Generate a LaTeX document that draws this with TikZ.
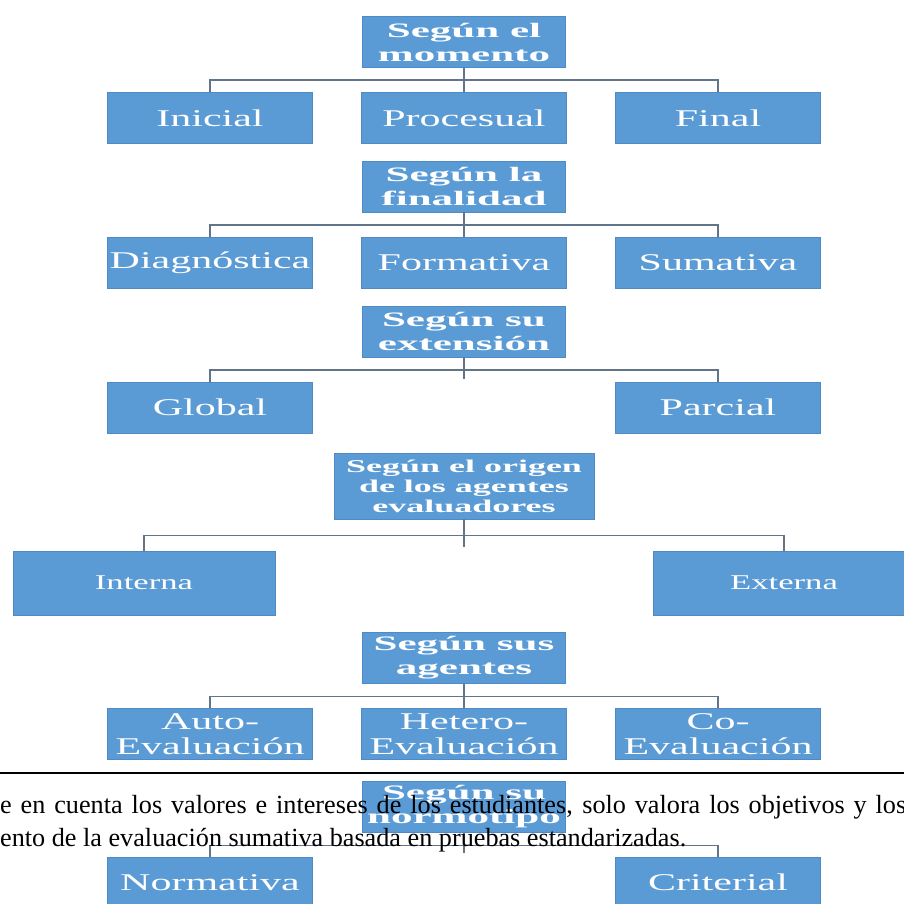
\documentclass[tikz,border=0pt]{standalone}
\usepackage{fontspec}
\setmainfont{Liberation Serif}
\usetikzlibrary{trees}

\definecolor{boxblue}{RGB}{91,155,213}
\definecolor{boxedge}{RGB}{79,138,196}
\definecolor{busgray}{RGB}{98,116,136}

\begin{document}
\begin{tikzpicture}[
    x=1pt, y=1pt,
    level 1/.style = {sibling distance=254pt, level distance=76pt},
    edge from parent/.style = {draw=busgray, line width=1.6pt},
    bus/.style = {edge from parent path={(\tikzparentnode.south) -- ++(0,-#1) -| (\tikzchildnode.north)}},
    rootbox/.style = {fill=boxblue, draw=boxedge, line width=0.6pt, text=white, align=center, inner sep=0pt,
        font=\bfseries\fontsize{20.5}{24}\selectfont, xscale=2.1, minimum width=203pt/2.1, minimum height=51pt},
    leafbox/.style = {fill=boxblue, draw=boxedge, line width=0.6pt, text=white, align=center, inner sep=0pt,
        font=\fontsize{24}{25}\selectfont, xscale=1.75, minimum width=205pt/1.75, minimum height=51pt},
    widebox/.style = {fill=boxblue, draw=boxedge, line width=0.6pt, text=white, align=center, inner sep=0pt,
        font=\fontsize{21}{22}\selectfont, xscale=1.65, minimum width=262pt/1.65, minimum height=64pt},
    stub/.style = {draw=busgray, line width=1.6pt}
]
\useasboundingbox (0,0) rectangle (904,903);
\clip (0,0) rectangle (904,903);

% segun el momento
\node[rootbox] (mom) at (464,861) {Según el\\momento} [bus=12.5]
    child {node[leafbox] (ini) {Inicial}}
    child {node[leafbox] (pro) {Procesual}}
    child {node[leafbox] (fin) {Final}};

% segun la finalidad
\node[rootbox] (fnl) at (464,716.5) {Según la\\finalidad} [bus=12.5]
    child {node[leafbox] (dia) {Diagnóstica}}
    child {node[leafbox] (frm) {Formativa}}
    child {node[leafbox] (sum) {Sumativa}};

% segun su extension
\begin{scope}[level 1/.style = {sibling distance=508pt, level distance=76pt}]
\node[rootbox] (ext) at (464,571.5) {Según su\\extensión} [bus=12.5]
    child {node[leafbox] (glo) {Global}}
    child {node[leafbox] (par) {Parcial}};
\end{scope}
\draw[stub] (ext.south) -- ([yshift=3pt]ext.south |- glo.north);

% segun el origen
\begin{scope}[level 1/.style = {sibling distance=640pt, level distance=97pt}]
\node[rootbox, font=\bfseries\fontsize{18}{20}\selectfont, xscale=2/2.1, minimum width=260pt/2, minimum height=66pt]
    (ori) at (464,417) {Según el origen\\de los agentes\\evaluadores} [bus=16]
    child {node[widebox] (int) {Interna}}
    child {node[widebox] (xtr) {Externa}};
\end{scope}
\draw[stub] (ori.south) -- ([yshift=4pt]ori.south |- int.north);

% segun sus agentes
\node[rootbox] (age) at (464,245) {Según sus\\agentes} [bus=12.5]
    child {node[leafbox] (aut) {Auto-\\Evaluación}}
    child {node[leafbox] (het) {Hetero-\\Evaluación}}
    child {node[leafbox] (coe) {Co-\\Evaluación}};

% segun su normotipo
\begin{scope}[level 1/.style = {sibling distance=508pt, level distance=75.5pt}]
\node[rootbox] (nor) at (464,96) {Según su\\normotipo} [bus=12.5]
    child {node[leafbox] (nrm) {Normativa}}
    child {node[leafbox] (cri) {Criterial}};
\end{scope}
\draw[stub] (nor.south) -- ([yshift=4pt]nor.south |- nrm.north);

% page text over the figure
\draw[line width=2pt] (0,130) -- (904,130);
\node[anchor=base west, inner sep=0pt, font=\fontsize{26.2}{33}\selectfont] (lina) at (0,90)
    {\hbox to 906pt{e en cuenta los valores e intereses de los estudiantes, solo valora los objetivos y los}};
\node[anchor=base west, inner sep=0pt, font=\fontsize{26.2}{33}\selectfont] (linb) at (0,57)
    {ento de la evaluación sumativa basada en pruebas estandarizadas.};
\end{tikzpicture}
\end{document}
